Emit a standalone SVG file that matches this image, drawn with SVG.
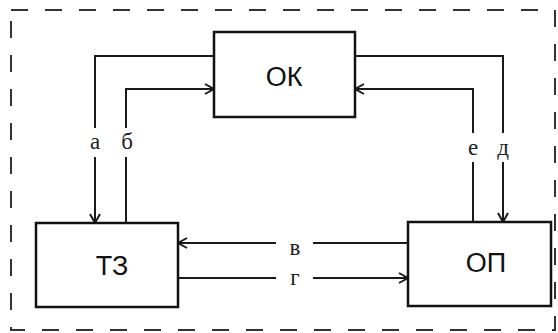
<svg xmlns="http://www.w3.org/2000/svg" width="558" height="333" viewBox="0 0 558 333">
<defs>
<marker id="arr" markerUnits="userSpaceOnUse" markerWidth="14" markerHeight="14" refX="10" refY="6" orient="auto">
<path d="M1,1 L10,6 L1,11" fill="none" stroke="#1a1a1a" stroke-width="2"/>
</marker>
</defs>
<style>
.frame{fill:none;stroke:#333;stroke-width:2;stroke-dasharray:17 17}
.box{fill:#fff;stroke:#111;stroke-width:2.5}
.lbl{font-family:"Liberation Sans","DejaVu Sans",sans-serif;font-size:27px;fill:#111;text-anchor:middle}
.ln{fill:none;stroke:#1a1a1a;stroke-width:2}
.arr{marker-end:url(#arr)}
.let{font-family:"Liberation Serif","DejaVu Serif",serif;font-size:23px;fill:#222;text-anchor:middle}
</style>
<rect class="frame" x="11" y="10" width="544" height="320"/>
<g id="connectors">
<path class="ln" d="M214,56 H95 V128"/>
<path class="ln arr" d="M95,157 V223"/>
<path class="ln" d="M126,223 V157"/>
<path class="ln arr" d="M126,128 V89 H214"/>
<path class="ln" d="M355,56 H503 V133"/>
<path class="ln arr" d="M503,162 V222"/>
<path class="ln" d="M473,222 V162"/>
<path class="ln arr" d="M473,133 V89 H355"/>
<path class="ln" d="M408,243 H313"/>
<path class="ln arr" d="M276,243 H178"/>
<path class="ln" d="M178,278 H276"/>
<path class="ln arr" d="M313,278 H408"/>
<text class="let" x="95" y="149">а</text>
<text class="let" x="127" y="149">б</text>
<text class="let" x="473" y="155">е</text>
<text class="let" x="503" y="155">д</text>
<text class="let" x="295" y="255">в</text>
<text class="let" x="295" y="285">г</text>
</g>
<g id="OK">
<rect class="box" x="214" y="32" width="141" height="85"/>
<text class="lbl" x="284" y="86">ОК</text>
</g>
<g id="TZ">
<rect class="box" x="36" y="223" width="142" height="84"/>
<text class="lbl" x="112" y="275">ТЗ</text>
</g>
<g id="OP">
<rect class="box" x="408" y="222" width="143" height="84"/>
<text class="lbl" x="486" y="272">ОП</text>
</g>
</svg>
